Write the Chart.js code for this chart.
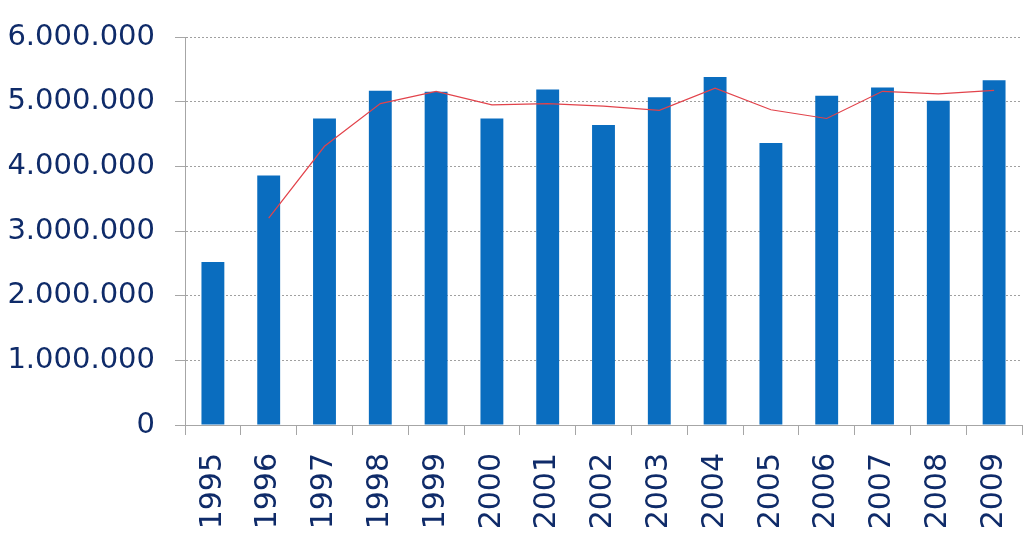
<!DOCTYPE html>
<html>
<head>
<meta charset="utf-8">
<script src="https://cdn.jsdelivr.net/npm/chart.js@4/dist/chart.umd.min.js"></script>
<style>
  html, body { margin: 0; padding: 0; background: #fff; }
  #chart { display: block; }
</style>
</head>
<body>
<canvas id="chart" width="1024" height="543"></canvas>
<script>
const years = ['1995', '1996', '1997', '1998', '1999', '2000', '2001', '2002',
    '2003', '2004', '2005', '2006', '2007', '2008', '2009'];
const barValues = [2520000, 3860000, 4740000, 5170000, 5155000, 4740000, 5190000, 4640000,
    5070000, 5380000, 4360000, 5090000, 5220000, 5015000, 5330000];
const lineValues = [null, 3200000, 4310000, 4970000, 5160000, 4950000, 4970000, 4930000,
    4865000, 5210000, 4875000, 4740000, 5160000, 5120000, 5175000];
const yTicks = [0, 1000000, 2000000, 3000000, 4000000, 5000000, 6000000];

const textColor = '#0F2B69';
const axisGray = '#a6a6a6';

function formatDots(v) {
    return String(v).replace(/\B(?=(\d{3})+(?!\d))/g, '.');
}

const ctx = document.getElementById('chart').getContext('2d');
new Chart(ctx, {
    data: {
        labels: years,
        datasets: [
            {
                type: 'line',
                data: lineValues,
                borderColor: '#E2434B',
                borderWidth: 1.2,
                pointRadius: 0,
                tension: 0,
                spanGaps: false,
                order: 0
            },
            {
                type: 'bar',
                data: barValues,
                backgroundColor: '#0A6DBF',
                barPercentage: 0.41,
                categoryPercentage: 1,
                order: 1
            }
        ]
    },
    options: {
        responsive: false,
        animation: false,
        layout: { padding: { top: 37, right: 2, left: 0, bottom: 0 } },
        plugins: {
            legend: { display: false },
            tooltip: { enabled: false }
        },
        scales: {
            x: {
                grid: {
                    display: true,
                    drawOnChartArea: false,
                    drawTicks: true,
                    tickLength: 10,
                    color: axisGray,
                    offset: true
                },
                border: { color: axisGray, width: 1 },
                ticks: {
                    color: textColor,
                    font: { family: 'DejaVu Sans', size: 30 },
                    minRotation: 90,
                    maxRotation: 90,
                    padding: 18
                },
                afterFit(scale) {
                    scale.height = 118;
                    scale.paddingLeft = 0;
                    scale.paddingRight = 0;
                }
            },
            y: {
                min: 0,
                max: 6000000,
                afterBuildTicks(scale) {
                    scale.ticks = yTicks.map(v => ({ value: v }));
                },
                grid: {
                    color: '#a0a0a0',
                    tickLength: 10,
                    tickColor: axisGray,
                    tickBorderDash: []
                },
                border: { color: axisGray, width: 1, dash: [2, 2] },
                ticks: {
                    color: textColor,
                    font: { family: 'DejaVu Sans', size: 29 },
                    padding: 20,
                    callback: v => formatDots(v)
                },
                afterFit(scale) {
                    scale.width = 185;
                    scale.paddingTop = 0;
                    scale.paddingBottom = 0;
                }
            }
        }
    }
});
</script>
</body>
</html>
